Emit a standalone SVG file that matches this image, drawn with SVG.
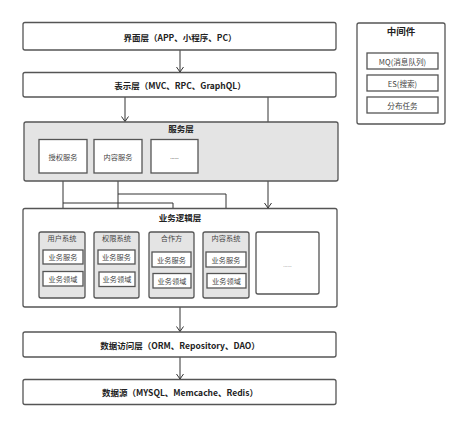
<svg xmlns="http://www.w3.org/2000/svg" width="474" height="434" viewBox="0 0 474 434">
<defs>
<marker id="arr" markerWidth="10" markerHeight="10" refX="7" refY="5" orient="auto" markerUnits="userSpaceOnUse" viewBox="0 0 10 10">
<path d="M2,1.5 L7,5 L2,8.5" fill="none" stroke="#333" stroke-width="1"/>
</marker>
</defs>
<style>
text{font-family:"Noto Sans CJK SC","Microsoft YaHei",sans-serif;fill:#222;text-anchor:middle;dominant-baseline:central}
.b{stroke:#555;stroke-width:1.3;fill:#fff}
.g{stroke:#555;stroke-width:1.3;fill:#e4e4e4}
.t{font-size:8.5px;font-weight:bold}
.s{font-size:7.2px;fill:#444}
.m{font-size:7.6px;fill:#444}
.c{fill:none;stroke:#333;stroke-width:1}
</style>
<rect width="474" height="434" fill="#fff"/>
<g id="connectors">
<path class="c" d="M180,50 V72" marker-end="url(#arr)"/>
<path class="c" d="M125,97 V121.5" marker-end="url(#arr)"/>
<path class="c" d="M268,97 V208" marker-end="url(#arr)"/>
<path class="c" d="M63,173 V231.5" marker-end="url(#arr)"/>
<path class="c" d="M118,173 V231.5" marker-end="url(#arr)"/>
<path class="c" d="M63,203 H173 V231.5" marker-end="url(#arr)"/>
<path class="c" d="M118,194 H226 V231.5" marker-end="url(#arr)"/>
<path class="c" d="M180,307 V331.5" marker-end="url(#arr)"/>
<path class="c" d="M180,357 V379" marker-end="url(#arr)"/>
</g>
<g id="ui-layer">
<rect class="b" x="23" y="22.5" width="313" height="27.5" rx="2"/>
<text class="t" x="180" y="37">界面层（APP、小程序、PC）</text>
</g>
<g id="presentation-layer">
<rect class="b" x="23" y="72.5" width="313" height="24.5" rx="2"/>
<text class="t" x="180" y="85">表示层（MVC、RPC、GraphQL）</text>
</g>
<g id="middleware">
<rect class="b" x="357" y="23" width="88" height="101" rx="2"/>
<text class="t" x="401" y="31" style="font-size:9.5px">中间件</text>
<rect class="b" x="367" y="53" width="71" height="16" stroke-width="1.1"/>
<text class="m" x="402.5" y="61">MQ(消息队列)</text>
<rect class="b" x="367" y="75" width="71" height="16" stroke-width="1.1"/>
<text class="m" x="402.5" y="83">ES(搜索)</text>
<rect class="b" x="367" y="97" width="71" height="16" stroke-width="1.1"/>
<text class="m" x="402.5" y="105">分布任务</text>
</g>
<g id="service-layer">
<rect class="g" x="24" y="122" width="314" height="59" rx="2"/>
<text class="t" x="181" y="128">服务层</text>
</g>
<g id="auth-service">
<rect class="b" x="39" y="139.5" width="48" height="33.5"/>
<text class="s" x="63" y="156.5">授权服务</text>
</g>
<g id="content-service">
<rect class="b" x="94" y="139.5" width="48" height="33.5"/>
<text class="s" x="118" y="156.5">内容服务</text>
</g>
<g id="more-service">
<rect class="b" x="151" y="139.5" width="47" height="33.5"/>
<text class="s" x="174.5" y="156" style="font-size:5px">......</text>
</g>
<g id="logic-layer">
<rect class="b" x="23" y="208.5" width="314" height="98.5" rx="2"/>
<text class="t" x="180" y="217">业务逻辑层</text>
</g>
<g id="user-system">
<rect class="g" x="39" y="232" width="46" height="66" rx="2"/>
<text class="s" x="62" y="238">用户系统</text>
<rect class="b" x="43" y="250" width="40" height="14" stroke-width="1.1"/>
<text class="s" x="63" y="257">业务服务</text>
<rect class="b" x="43" y="271.5" width="40" height="14.5" stroke-width="1.1"/>
<text class="s" x="63" y="279">业务领域</text>
</g>
<g id="perm-system">
<rect class="g" x="94" y="232" width="45" height="66" rx="2"/>
<text class="s" x="116.5" y="238">权限系统</text>
<rect class="b" x="98" y="250" width="37" height="14" stroke-width="1.1"/>
<text class="s" x="116.5" y="257">业务服务</text>
<rect class="b" x="99" y="272" width="36" height="14.5" stroke-width="1.1"/>
<text class="s" x="117" y="279">业务领域</text>
</g>
<g id="partner">
<rect class="g" x="149" y="232" width="45" height="66" rx="2"/>
<text class="s" x="171.5" y="238">合作方</text>
<rect class="b" x="152" y="252" width="39" height="15" stroke-width="1.1"/>
<text class="s" x="171.5" y="259.5">业务服务</text>
<rect class="b" x="153" y="273.5" width="38" height="14.5" stroke-width="1.1"/>
<text class="s" x="172" y="281">业务领域</text>
</g>
<g id="content-system">
<rect class="g" x="203" y="232" width="46" height="66" rx="2"/>
<text class="s" x="226" y="238">内容系统</text>
<rect class="b" x="206" y="252" width="40" height="15" stroke-width="1.1"/>
<text class="s" x="226" y="259.5">业务服务</text>
<rect class="b" x="207" y="273.5" width="39" height="14.5" stroke-width="1.1"/>
<text class="s" x="226.5" y="281">业务领域</text>
</g>
<g id="more-system">
<rect class="b" x="256" y="232" width="63" height="62" rx="2"/>
<text class="s" x="287.5" y="264" style="font-size:5px;fill:#999">......</text>
</g>
<g id="data-access-layer">
<rect class="b" x="23" y="332" width="313" height="25" rx="2"/>
<text class="t" x="180" y="344.5">数据访问层（ORM、Repository、DAO）</text>
</g>
<g id="data-source">
<rect class="b" x="23" y="379.5" width="313" height="25" rx="2"/>
<text class="t" x="180" y="392">数据源（MYSQL、Memcache、Redis）</text>
</g>
</svg>
